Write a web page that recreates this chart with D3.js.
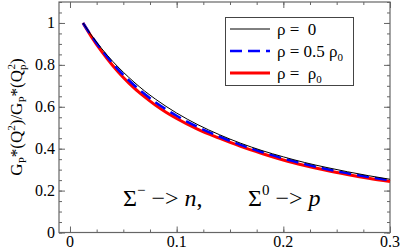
<!DOCTYPE html>
<html>
<head>
<meta charset="utf-8">
<script src="https://cdn.jsdelivr.net/npm/d3@7"></script>
<style>
  body { margin: 0; background: #fff; }
</style>
</head>
<body>
<div id="chart"></div>
<script>
// data
var q2 = [0.0122, 0.02, 0.03, 0.04, 0.05, 0.06, 0.07, 0.08, 0.09, 0.10, 0.12, 0.14, 0.16, 0.18, 0.20, 0.22, 0.24, 0.26, 0.28, 0.30];
var rho0 = [1.0, 0.942, 0.876, 0.817, 0.765, 0.718, 0.675, 0.637, 0.602, 0.570, 0.514, 0.467, 0.426, 0.391, 0.361, 0.334, 0.311, 0.290, 0.271, 0.254];
var rhoHalf = [1.0, 0.939, 0.869, 0.807, 0.752, 0.704, 0.661, 0.622, 0.588, 0.557, 0.503, 0.458, 0.418, 0.384, 0.353, 0.327, 0.303, 0.283, 0.265, 0.249];
var rhoFull = [1.0, 0.935, 0.862, 0.797, 0.740, 0.690, 0.647, 0.608, 0.574, 0.544, 0.492, 0.450, 0.411, 0.377, 0.346, 0.320, 0.297, 0.277, 0.259, 0.243];
var xTicks = [0, 0.1, 0.2, 0.3];
var yTicks = [0, 0.2, 0.4, 0.6, 0.8, 1];

(function() {
  var series = [
    { name: "ρ =  0", vals: rho0, color: "#000", width: 1, dash: null },
    { name: "ρ = 0.5 ρ", sub: "0", vals: rhoHalf, color: "#0000ff", width: 2.5, dash: "12,6" },
    { name: "ρ =  ρ", sub: "0", vals: rhoFull, color: "#ff0000", width: 3, dash: null }
  ];

  var W = 402, H = 250;
  var pl = 59, pr = 390, pt = 2, pb = 232.5;

  var svg = d3.select("#chart").append("svg")
    .attr("width", W).attr("height", H)
    .style("font-family", "'Liberation Serif', 'DejaVu Serif', Times, serif");

  var x = d3.scaleLinear().domain([-0.0103, 0.3]).range([pl, pr]);
  var y = d3.scaleLinear().domain([0, 1.1]).range([pb, pt]);

  var axisColor = "#666";

  function tickRange(a, b, step) {
    var out = [];
    for (var i = Math.ceil(a / step - 1e-9); i * step <= b + 1e-9; i++) out.push(+(i * step).toFixed(4));
    return out;
  }
  var xMinor = tickRange(0, 0.3, 0.025);
  var yMinor = tickRange(0, 1.1, 0.05);

  // ticks on all four sides, pointing inward
  var ax = svg.append("g");
  ax.append("g").attr("transform", "translate(0," + pb + ")")
    .call(d3.axisBottom(x).tickValues(xMinor).tickSize(-3).tickFormat(""));
  ax.append("g").attr("transform", "translate(0," + pb + ")")
    .call(d3.axisBottom(x).tickValues(xTicks).tickSize(-6).tickFormat(""));
  ax.append("g").attr("transform", "translate(0," + pt + ")")
    .call(d3.axisTop(x).tickValues(xMinor).tickSize(-3).tickFormat(""));
  ax.append("g").attr("transform", "translate(0," + pt + ")")
    .call(d3.axisTop(x).tickValues(xTicks).tickSize(-6).tickFormat(""));
  ax.append("g").attr("transform", "translate(" + pl + ",0)")
    .call(d3.axisLeft(y).tickValues(yMinor).tickSize(-3).tickFormat(""));
  ax.append("g").attr("transform", "translate(" + pl + ",0)")
    .call(d3.axisLeft(y).tickValues(yTicks).tickSize(-6).tickFormat(""));
  ax.append("g").attr("transform", "translate(" + pr + ",0)")
    .call(d3.axisRight(y).tickValues(yMinor).tickSize(-3).tickFormat(""));
  ax.append("g").attr("transform", "translate(" + pr + ",0)")
    .call(d3.axisRight(y).tickValues(yTicks).tickSize(-6).tickFormat(""));
  ax.selectAll(".domain").remove();
  ax.selectAll("line").attr("stroke", axisColor);

  svg.append("rect")
    .attr("x", pl).attr("y", pt)
    .attr("width", pr - pl).attr("height", pb - pt)
    .attr("fill", "none").attr("stroke", axisColor).attr("stroke-width", 1.2);

  // tick labels
  svg.selectAll(".xl").data(xTicks).enter().append("text")
    .attr("x", function(d) { return x(d); })
    .attr("y", 247)
    .attr("text-anchor", "middle")
    .attr("font-size", 16)
    .text(function(d) { return d; });

  svg.selectAll(".yl").data(yTicks).enter().append("text")
    .attr("x", 55)
    .attr("y", function(d) { return y(d) + 5; })
    .attr("text-anchor", "end")
    .attr("font-size", 16)
    .text(function(d) { return d; });

  // y label
  var yl = svg.append("text")
    .attr("transform", "translate(22,117) rotate(-90)")
    .attr("text-anchor", "middle")
    .attr("font-size", 17);
  yl.append("tspan").text("G");
  yl.append("tspan").attr("font-size", 11).attr("dy", 4).text("P");
  yl.append("tspan").attr("dy", -4).text("*(Q");
  yl.append("tspan").attr("font-size", 11).attr("dy", -7).text("2");
  yl.append("tspan").attr("dy", 7).text(")/G");
  yl.append("tspan").attr("font-size", 11).attr("dy", 4).text("P");
  yl.append("tspan").attr("dy", -4).text("*(Q");
  yl.append("tspan").attr("font-size", 11).attr("dy", 4).text("p");
  yl.append("tspan").attr("font-size", 11).attr("dy", -11).attr("dx", -5).text("2");
  yl.append("tspan").attr("dy", 7).text(")");

  // curves
  var line = d3.line()
    .x(function(d) { return x(d[0]); })
    .y(function(d) { return y(d[1]); })
    .curve(d3.curveMonotoneX);

  series.slice().reverse().forEach(function(s) {
    svg.append("path")
      .datum(q2.map(function(v, i) { return [v, s.vals[i]]; }))
      .attr("d", line)
      .attr("fill", "none")
      .attr("stroke", s.color)
      .attr("stroke-width", s.width)
      .attr("stroke-dasharray", s.dash);
  });

  // legend
  var lg = svg.append("g");
  lg.append("rect")
    .attr("x", 225.5).attr("y", 17.5).attr("width", 128).attr("height", 68)
    .attr("fill", "#fff").attr("stroke", "#444").attr("stroke-width", 1);
  series.forEach(function(s, i) {
    var ly = 29 + i * 22;
    lg.append("line")
      .attr("x1", 230).attr("x2", 270).attr("y1", ly).attr("y2", ly)
      .attr("stroke", s.color).attr("stroke-width", s.width)
      .attr("stroke-dasharray", s.dash);
    var t = lg.append("text").attr("x", 277).attr("y", ly + 6).attr("font-size", 17)
      .style("white-space", "pre");
    t.append("tspan").text(s.name);
    if (s.sub) t.append("tspan").attr("font-size", 11).attr("dy", 4).text(s.sub);
  });

  // annotation, two parts
  function reaction(x0, sup, target) {
    var t = svg.append("text").attr("x", x0).attr("y", 206).attr("font-size", 24)
      .style("white-space", "pre");
    t.append("tspan").text("Σ");
    t.append("tspan").attr("font-size", 15).attr("dy", -11).text(sup);
    t.append("tspan").attr("dy", 11).text(" −> ");
    t.append("tspan").attr("font-style", "italic").text(target);
    return t;
  }
  reaction(123, "−", "n").append("tspan").text(",");
  reaction(248, "0", "p");
})();
</script>
</body>
</html>
